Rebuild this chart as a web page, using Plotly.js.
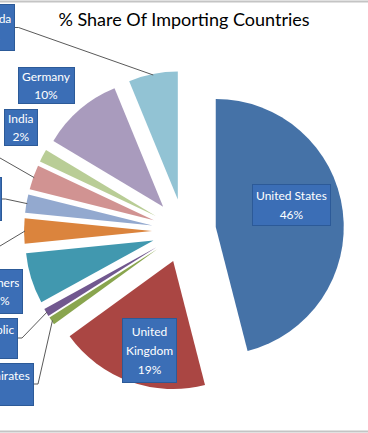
<!DOCTYPE html>
<html><head><meta charset="utf-8">
<script src="https://cdn.plot.ly/plotly-3.0.1.min.js"></script>
<style>html,body{margin:0;padding:0;background:#fff;overflow:hidden}#chart{width:368px;height:433px}</style>
</head><body><div id="chart"></div>
<script>
// ---- data ----
const countries = ["United States","United Kingdom","United Arab Emirates","Czech Republic","Others","Australia","Japan","France","India","Germany","Canada"];
const shares = [46, 19, 1.0, 1.0, 6.4, 3.2, 2.3, 3.1, 1.6, 10.2, 6.2];
const labelNames = ["United States","United<br>Kingdom","United Arab Emirates","Czech Republic","Others","Australia","Japan","France","India","Germany","Canada"];
const sliceColors = ["#4572A7","#AA4643","#89A54E","#71588F","#4198AF","#DB843D","#93A9CF","#D19392","#B9CD96","#A99BBD","#92C3D4"];
const chartTitle = "% Share Of Importing Countries";

// ---- layout config ----
const W = 368, H = 433;
const M = {l:0, r:0, t:71, b:42};
const PULL = 0.25;
// label boxes: right edge x (px), centre y (px), text-area height, leader line?
const boxes = [
  {rx:331, cy:205, h:34, arrow:false},
  {rx:177, cy:350, h:57, arrow:false},
  {rx:34,  cy:384, h:35, arrow:true},
  {rx:18,  cy:338, h:33, arrow:true},
  {rx:22.5,cy:291, h:37, arrow:false},
  {rx:-4,  cy:246, h:35, arrow:true},
  {rx:1.5, cy:199, h:36, arrow:true},
  {rx:-4,  cy:158, h:35, arrow:true},
  {rx:38,  cy:127.5, h:29, arrow:false},
  {rx:75,  cy:85.5, h:29, arrow:false},
  {rx:14.5,cy:27.5, h:39, arrow:true}
];

const pw = W - M.l - M.r, ph = H - M.t - M.b;
const cx0 = M.l + pw/2, cy0 = M.t + ph/2;
const R = Math.min(pw, ph) / 2 / (1 + PULL);
const toPx = x => (x - M.l) / pw;
const toPy = y => (M.t + ph - y) / ph;

const total = shares.reduce((a,b)=>a+b,0);
let cum = 0;
const annotations = [], shapes = [];
shares.forEach((v, i) => {
  const mid = (cum + v/2) / total * 2 * Math.PI;
  cum += v;
  const pct = Math.round(v / total * 100);
  const b = boxes[i];
  annotations.push({
    text: '<span style="font-size:12px">' + labelNames[i].split('<br>').join('</span><br><span style="font-size:12px">') + '</span><br><span style="font-size:12px">' + pct + '%</span>',
    xref:'paper', yref:'paper', showarrow:false,
    x: toPx(b.rx), y: toPy(b.cy), xanchor:'right', yanchor:'middle',
    font:{family:'Lato, sans-serif', size:14.5, color:'#ffffff'},
    bgcolor:'#3B6EB6', bordercolor:'#2C5A98', borderwidth:1, borderpad:3,
    height:b.h, align:'center', valign:'middle'
  });
  if (b.arrow) {
    const d = R * (1 + PULL) - 1;
    const tx = cx0 + d * Math.sin(mid), ty = cy0 - d * Math.cos(mid);
    const ex = b.rx + 4;
    shapes.push({type:'path', xref:'paper', yref:'paper',
      path: 'M' + toPx(b.rx) + ',' + toPy(b.cy) + ' L' + toPx(ex) + ',' + toPy(b.cy) + ' L' + toPx(tx) + ',' + toPy(ty),
      line:{color:'#5a5a5a', width:1}});
  }
});

shapes.push(
  {type:'line', xref:'paper', yref:'paper', x0:-0.01, x1:1.01, y0:toPy(1.5), y1:toPy(1.5), line:{color:'#C4C4C4', width:2}},
  {type:'line', xref:'paper', yref:'paper', x0:-0.01, x1:1.01, y0:toPy(431.5), y1:toPy(431.5), line:{color:'#C4C4C4', width:2}}
);

const trace = {
  type:'pie', labels: countries, values: shares, sort:false,
  direction:'clockwise', rotation:0, pull: PULL,
  marker:{colors: sliceColors, line:{width:0}},
  textinfo:'none', hoverinfo:'label+percent',
  domain:{x:[0,1], y:[0,1]}
};

const layout = {
  width: W, height: H, margin: M, showlegend:false,
  paper_bgcolor:'#ffffff', plot_bgcolor:'#ffffff',
  title:{text: chartTitle, font:{family:'Lato, sans-serif', size:18, color:'#000000'},
         x:0.5, xanchor:'center', xref:'paper', y: 1 - 20/H, yref:'container', yanchor:'middle'},
  annotations: annotations,
  shapes: shapes
};

Plotly.newPlot('chart', [trace], layout, {displayModeBar:false, staticPlot:true});
</script></body></html>
